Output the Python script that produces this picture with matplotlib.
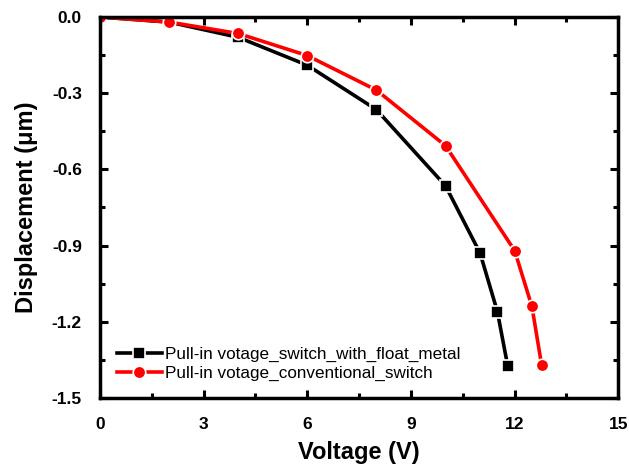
import matplotlib
matplotlib.use("Agg")
import matplotlib.pyplot as plt
from matplotlib.ticker import MultipleLocator

plt.rcParams['font.family'] = ['Liberation Sans', 'DejaVu Sans']
plt.rcParams['axes.unicode_minus'] = False

# data
volt_float = [0, 2, 4, 6, 8, 10, 11, 11.5, 11.8]
disp_float = [0, -0.02, -0.08, -0.19, -0.365, -0.665, -0.93, -1.16, -1.375]
volt_conv = [0, 2, 4, 6, 8, 10, 12, 12.5, 12.78]
disp_conv = [0, -0.02, -0.065, -0.152, -0.288, -0.507, -0.92, -1.14, -1.37]
label_float = "Pull-in votage_switch_with_float_metal"
label_conv = "Pull-in votage_conventional_switch"

fig = plt.figure(figsize=(6.29, 4.72), dpi=100)
ax = fig.add_axes([0.159, 0.157, 0.824, 0.807])

ax.plot(volt_float, disp_float, color="black", lw=2.6, marker="s", ms=8,
        mec="white", mew=1.2, mfc="black", label=label_float)
ax.plot(volt_conv, disp_conv, color="red", lw=2.6, marker="o", ms=9,
        mec="white", mew=1.2, mfc="red", label=label_conv)

ax.set_xlim(0, 15)
ax.set_ylim(-1.5, 0)
ax.xaxis.set_major_locator(MultipleLocator(3))
ax.xaxis.set_minor_locator(MultipleLocator(1.5))
ax.yaxis.set_major_locator(MultipleLocator(0.3))
ax.yaxis.set_minor_locator(MultipleLocator(0.15))
ax.tick_params(which="both", direction="in", top=True, right=True, width=2.2)
ax.tick_params(which="major", length=6, labelsize=12.5)
ax.tick_params(axis="x", which="major", pad=14)
ax.tick_params(axis="y", which="major", pad=13)
ax.tick_params(which="minor", length=3.5)
for lbl in ax.get_xticklabels() + ax.get_yticklabels():
    lbl.set_fontweight("bold")
for s in ax.spines.values():
    s.set_linewidth(2.5)

ax.set_xlabel("Voltage (V)", fontsize=17, fontweight="bold", labelpad=6)
ax.set_ylabel("Displacement (\u03bcm)", fontsize=17, fontweight="bold", labelpad=10)

leg = ax.legend(loc="lower left", frameon=False, fontsize=12.3, handlelength=2.6,
                handletextpad=0.2, borderaxespad=0.6, labelspacing=0.2)

fig.savefig("out.png", dpi=100)
